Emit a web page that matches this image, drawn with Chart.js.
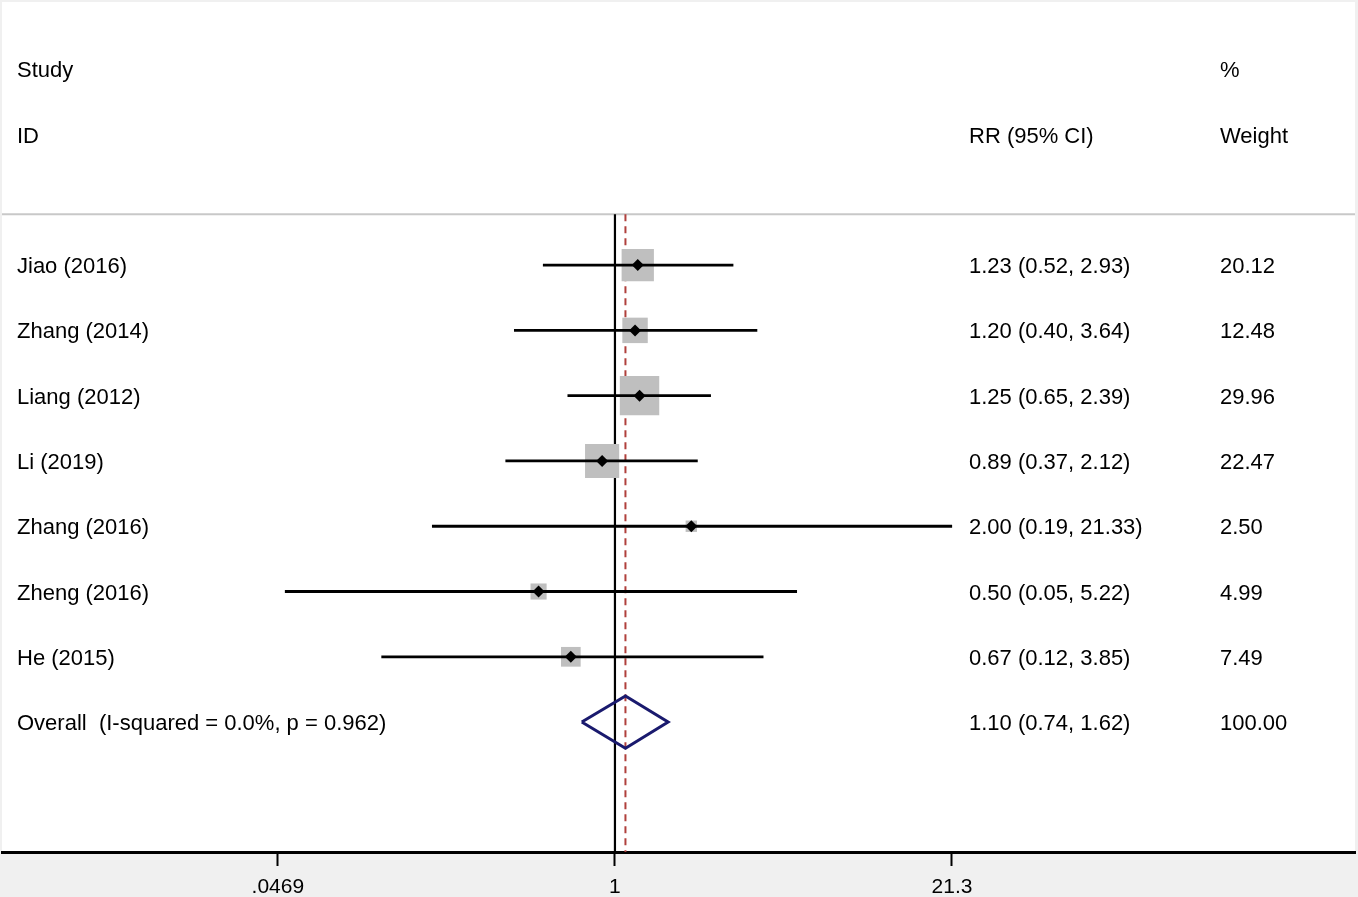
<!DOCTYPE html>
<html>
<head>
<meta charset="utf-8">
<script src="https://cdn.jsdelivr.net/npm/chart.js@4/dist/chart.umd.min.js"></script>
<style>
  html, body { margin: 0; padding: 0; background: #f0f0f0; }
  canvas { display: block; }
</style>
</head>
<body>
<canvas id="forest" width="1358" height="897"></canvas>
<script>
// Study data
const studies = ['Jiao (2016)', 'Zhang (2014)', 'Liang (2012)', 'Li (2019)', 'Zhang (2016)', 'Zheng (2016)', 'He (2015)'];
const rr = [1.23, 1.20, 1.25, 0.89, 2.00, 0.50, 0.67];
const lower = [0.52, 0.40, 0.65, 0.37, 0.19, 0.05, 0.12];
const upper = [2.93, 3.64, 2.39, 2.12, 21.33, 5.22, 3.85];
const weights = [20.12, 12.48, 29.96, 22.47, 2.50, 4.99, 7.49];

const overallLabel = 'Overall  (I-squared = 0.0%, p = 0.962)';
const overall = { rr: 1.10, lower: 0.74, upper: 1.62, weight: 100.00 };

const tickValues = [0.0469, 1, 21.3];
const tickLabels = ['.0469', '1', '21.3'];

const X_MIN = 0.003837, X_MAX = 826;
const Y_MIN = -4.03, Y_MAX = 8.99, SEP_ROW = -0.78;
const overallRow = studies.length;

const FONT = '22px "Liberation Sans", Arial, sans-serif';

// Background: grey page, white plot region
const backgroundPlugin = {
    id: 'background',
    beforeDraw(chart) {
        const { ctx, chartArea: a } = chart;
        ctx.save();
        ctx.fillStyle = '#f0f0f0';
        ctx.fillRect(0, 0, chart.width, chart.height);
        ctx.fillStyle = '#ffffff';
        ctx.fillRect(a.left, a.top, a.right - a.left, a.bottom - a.top);
        ctx.restore();
    }
};

// Text columns of the forest plot
const textPlugin = {
    id: 'textColumns',
    afterDraw(chart) {
        const { ctx } = chart;
        const y = chart.scales.y;
        const put = (txt, x, row) => ctx.fillText(txt, x, y.getPixelForValue(row) + 2);
        ctx.save();
        ctx.font = FONT;
        ctx.fillStyle = '#000';
        ctx.textBaseline = 'middle';
        ctx.textAlign = 'left';

        put('Study', 17, -3);
        put('ID', 17, -2);
        put('%', 1220, -3);
        put('RR (95% CI)', 969, -2);
        put('Weight', 1220, -2);

        studies.forEach((s, i) => {
            put(s, 17, i);
            put(`${rr[i].toFixed(2)} (${lower[i].toFixed(2)}, ${upper[i].toFixed(2)})`, 969, i);
            put(weights[i].toFixed(2), 1220, i);
        });
        put(overallLabel, 17, overallRow);
        put(`${overall.rr.toFixed(2)} (${overall.lower.toFixed(2)}, ${overall.upper.toFixed(2)})`, 969, overallRow);
        put(overall.weight.toFixed(2), 1220, overallRow);
        ctx.restore();
    }
};

const datasets = [];

// separator under the header
datasets.push({
    data: [{ x: X_MIN, y: SEP_ROW }, { x: X_MAX, y: SEP_ROW }],
    showLine: true, borderColor: '#c8c8c8', borderWidth: 2, pointRadius: 0, order: 6
});
// no-effect line
datasets.push({
    data: [{ x: 1, y: SEP_ROW }, { x: 1, y: Y_MAX }],
    showLine: true, borderColor: '#000', borderWidth: 2.2, pointRadius: 0, order: 5
});
// overall estimate dashed line
datasets.push({
    data: [{ x: overall.rr, y: SEP_ROW }, { x: overall.rr, y: Y_MAX }],
    showLine: true, borderColor: '#b0403c', borderWidth: 2, borderDash: [7, 5], pointRadius: 0, order: 5
});
// weight boxes (area proportional to weight)
datasets.push({
    data: rr.map((v, i) => ({ x: v, y: i })),
    pointStyle: 'rect',
    pointRadius: weights.map(w => 7.2 * Math.sqrt(w) / Math.SQRT2),
    backgroundColor: '#bfbfbf', borderWidth: 0, order: 4
});
// confidence intervals
studies.forEach((s, i) => {
    datasets.push({
        data: [{ x: lower[i], y: i }, { x: upper[i], y: i }],
        showLine: true, borderColor: '#000', borderWidth: 2.8, pointRadius: 0, order: 2
    });
});
// point estimates
datasets.push({
    data: rr.map((v, i) => ({ x: v, y: i })),
    pointStyle: 'rectRot', pointRadius: 6,
    backgroundColor: '#000', borderColor: '#000', borderWidth: 0, order: 1
});
// pooled diamond
datasets.push({
    data: [
        { x: overall.lower, y: overallRow },
        { x: overall.rr, y: overallRow - 0.4 },
        { x: overall.upper, y: overallRow },
        { x: overall.rr, y: overallRow + 0.4 },
        { x: overall.lower, y: overallRow }
    ],
    showLine: true, borderColor: '#1a1a6e', borderWidth: 3, borderJoinStyle: 'miter',
    pointRadius: 0, order: 0
});

new Chart(document.getElementById('forest'), {
    type: 'scatter',
    data: { datasets },
    options: {
        responsive: false,
        animation: false,
        layout: { autoPadding: false, padding: { left: 2, top: 2, right: 3, bottom: 0 } },
        plugins: { legend: { display: false }, tooltip: { enabled: false } },
        elements: { line: { tension: 0, fill: false } },
        scales: {
            x: {
                type: 'logarithmic',
                min: X_MIN,
                max: X_MAX,
                afterBuildTicks: scale => { scale.ticks = tickValues.map(v => ({ value: v })); },
                afterFit: scale => { scale.height = 45; },
                ticks: {
                    autoSkip: false,
                    maxRotation: 0,
                    color: '#000',
                    padding: 9,
                    font: { family: '"Liberation Sans", Arial, sans-serif', size: 21 },
                    callback: (v, i) => tickLabels[i]
                },
                grid: { drawOnChartArea: false, drawTicks: true, tickLength: 14, tickColor: '#000', tickWidth: 2 },
                border: { display: true, color: '#000', width: 3 }
            },
            y: {
                type: 'linear',
                min: Y_MIN,
                max: Y_MAX,
                reverse: true,
                display: false
            }
        }
    },
    plugins: [backgroundPlugin, textPlugin]
});
</script>
</body>
</html>
